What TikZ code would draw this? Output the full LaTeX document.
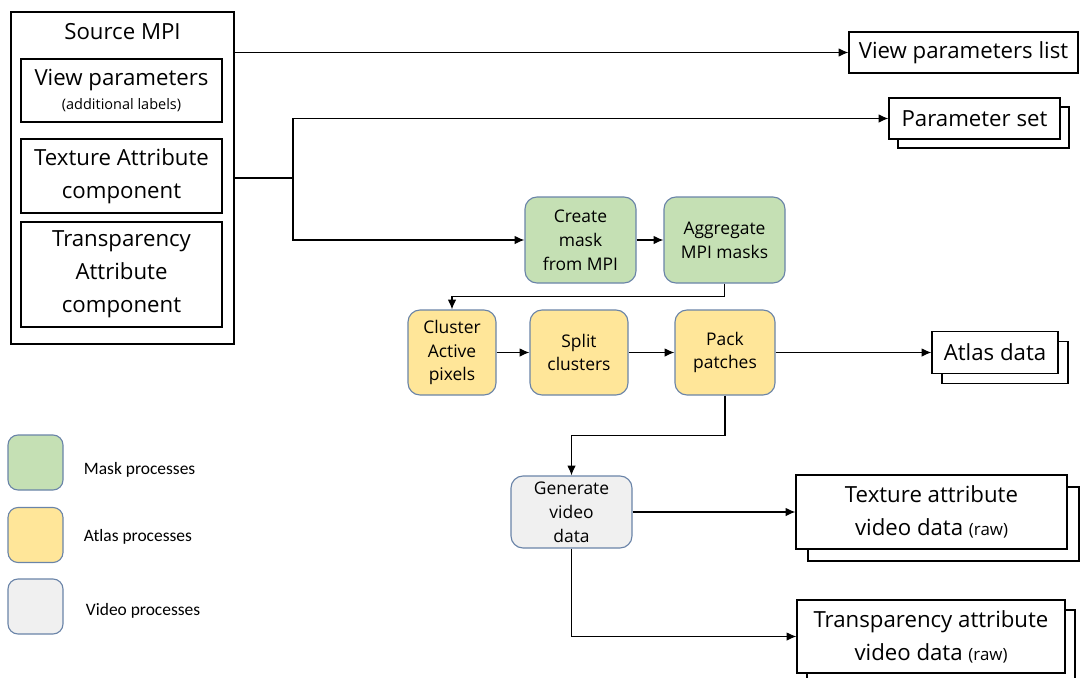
\documentclass[tikz,border=0pt]{standalone}
\usepackage{fontspec}
\setmainfont{Open Sans}
\newfontfamily\legfont{Carlito}
\usetikzlibrary{arrows.meta,shadows}

\definecolor{maskfill}{HTML}{C5E0B4}
\definecolor{atlasfill}{HTML}{FFE699}
\definecolor{videofill}{HTML}{F0F0F0}
\definecolor{procline}{HTML}{6A84A8}

\newcommand{\px}{0.025cm}
\newcommand{\bigtxt}{\fontsize{15.8}{23.5}\selectfont}
\newcommand{\proctxt}{\fontsize{12.4}{17}\selectfont}

\tikzset{
  sz/.style 2 args={minimum width=#1*\px, minimum height=#2*\px, inner sep=0pt},
  srcbox/.style={draw, line width=0.8pt, align=center, font=\bigtxt},
  proc/.style={draw=procline, line width=0.8pt, rounded corners=0.3cm, align=center, font=\proctxt},
  maskproc/.style={proc, fill=maskfill},
  atlasproc/.style={proc, fill=atlasfill},
  videoproc/.style={proc, fill=videofill},
  outbox/.style={draw, fill=white, line width=0.8pt, align=center, font=\bigtxt},
  stackbox/.style={outbox, copy shadow={shadow xshift=#1*\px, shadow yshift=-#1*\px}},
  legsq/.style={draw=procline, line width=0.8pt, rounded corners=0.25cm, sz={55}{55}},
  legtxt/.style={anchor=west, font=\legfont\fontsize{12.4}{15}\selectfont},
  arr/.style={-{Latex[length=7pt,width=6pt]}, line width=0.8pt},
  conn/.style={line width=0.8pt}
}

\begin{document}
\begin{tikzpicture}[x=\px, y=-\px]
  \useasboundingbox (0,0) rectangle (1080,678);

  % source MPI with its three parts
  \node[srcbox, sz={223}{332}] (src) at (122.5,178) {};
  \node[font=\bigtxt] (srctitle) at (122.5,32) {Source MPI};
  \node[srcbox, sz={201}{63}] (viewp) at (121.5,90.5)
    {View parameters\\[-7pt]{\fontsize{10.3}{12}\selectfont (additional labels)}};
  \node[srcbox, sz={201}{74}] (texc) at (121.5,176) {Texture Attribute\\component};
  \node[srcbox, sz={201}{105}] (trac) at (121.5,274.5) {Transparency\\Attribute\\component};

  % outputs
  \node[outbox, sz={229}{41}] (vpl) at (963.5,52.5) {View parameters list};
  \node[stackbox=9, sz={171}{41}] (pset) at (974.5,118.5) {Parameter set};
  \node[stackbox=10, sz={126}{42}] (atlas) at (995,352.5) {Atlas data};
  \node[stackbox=12, sz={271}{74}] (texv) at (931.5,512)
    {Texture attribute\\video data {\fontsize{12}{12}\selectfont(raw)}};
  \node[stackbox=10, sz={268}{73}] (trav) at (931,636.5)
    {Transparency attribute\\video data {\fontsize{12}{12}\selectfont(raw)}};

  % mask processes
  \node[maskproc, sz={111}{86}] (create) at (580.5,240) {Create\\mask\\from MPI};
  \node[maskproc, sz={121}{86}] (aggr) at (724.5,240) {Aggregate\\MPI masks};

  % atlas processes
  \node[atlasproc, sz={88}{85}] (clus) at (452,352.5) {Cluster\\Active\\pixels};
  \node[atlasproc, sz={98}{85}] (split) at (579,352.5) {Split\\clusters};
  \node[atlasproc, sz={100}{85}] (pack) at (725,352.5) {Pack\\patches};

  % video process
  \node[videoproc, sz={121}{72}] (gen) at (571.5,512) {Generate\\video\\data};

  % connectors
  \coordinate (jn) at (293,178);
  \draw[arr] (src.east |- vpl.west) -- (vpl.west);
  \draw[conn] (src.east) -- (jn);
  \draw[arr] (jn) |- (pset.west);
  \draw[arr] (jn) |- (create.west);
  \draw[arr] (create) -- (aggr);
  \draw[arr] (aggr.south) -- ++(0,13) -| (clus.north);
  \draw[arr] (clus) -- (split);
  \draw[arr] (split) -- (pack);
  \draw[arr] (pack) -- (atlas);
  \draw[arr] (pack.south) -- ++(0,40) -| (gen.north);
  \draw[arr] (gen.east) -- (gen.east -| texv.west);
  \draw[arr] (gen.south) |- (trav.west);

  % legend
  \node[legsq, fill=maskfill] (legm) at (35.5,462.5) {};
  \node[legsq, fill=atlasfill] (lega) at (35.5,535) {};
  \node[legsq, fill=videofill] (legv) at (35.5,606.5) {};
  \node[legtxt] (legmt) at (79,470) {Mask processes};
  \node[legtxt] (legat) at (79,537) {Atlas processes};
  \node[legtxt] (legvt) at (81,611) {Video processes};
\end{tikzpicture}
\end{document}
